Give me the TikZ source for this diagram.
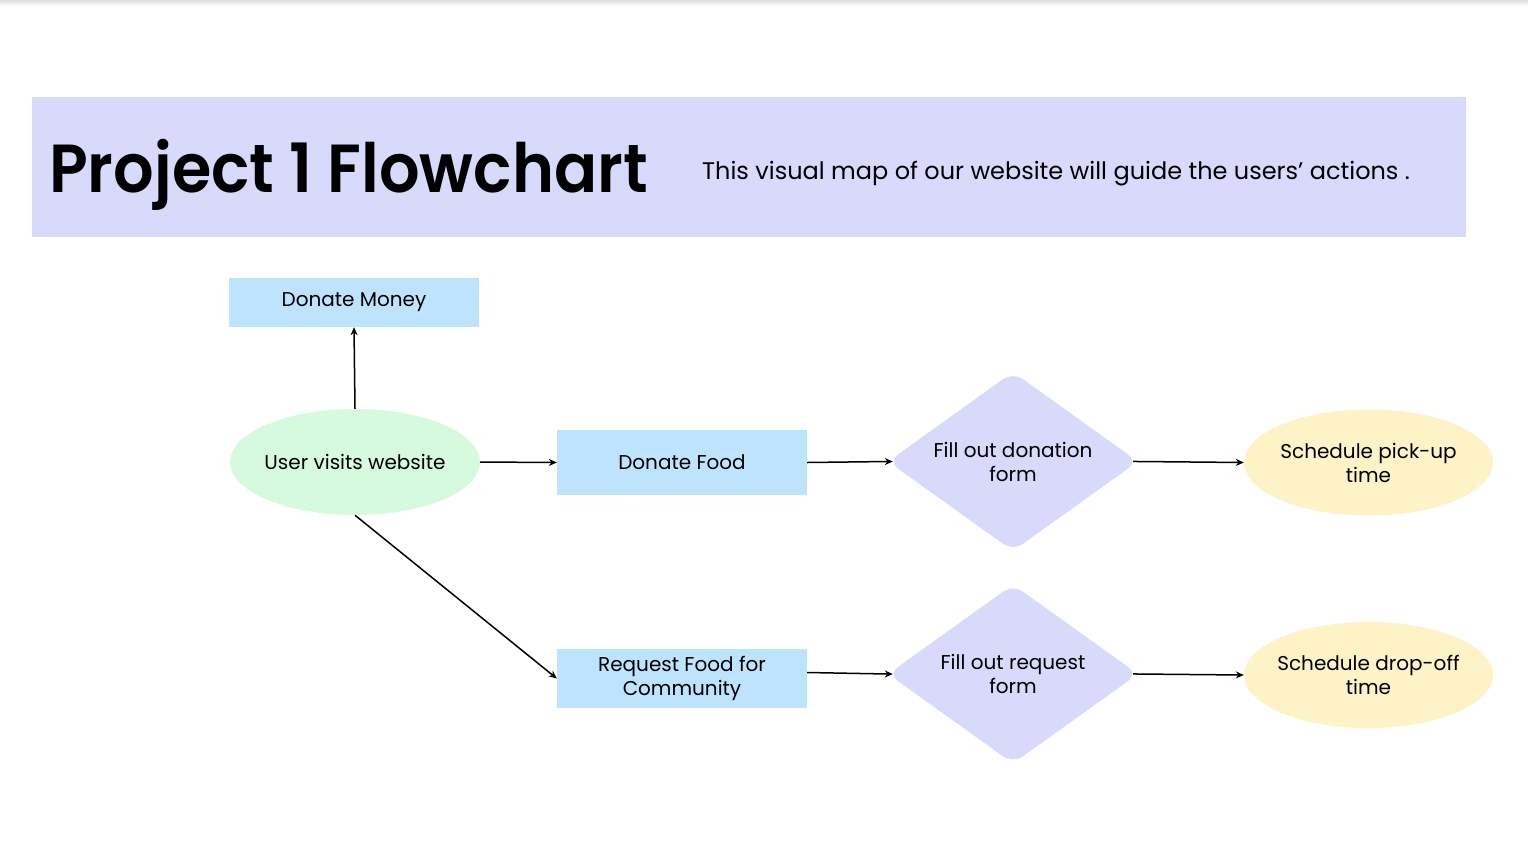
\documentclass[tikz,border=0pt]{standalone}
\usepackage{fontspec}
\usepackage{graphicx}
\setmainfont{Poppins}
\newfontfamily\titlefont{Poppins SemiBold}
\usetikzlibrary{shapes.geometric,arrows.meta,calc}
\definecolor{banner}{RGB}{216,218,252}
\definecolor{boxblue}{RGB}{190,227,253}
\definecolor{ovgreen}{RGB}{213,250,222}
\definecolor{ovyellow}{RGB}{253,243,199}
\definecolor{diamondc}{RGB}{216,218,252}
\begin{document}
\begin{tikzpicture}[x=1pt,y=-1pt,
  lbl/.style={font=\fontsize{20}{24}\selectfont, align=center, text=black},
  bluebox/.style={fill=boxblue, draw=none, minimum width=250pt, inner sep=0pt},
  greenov/.style={ellipse, fill=ovgreen, draw=none, minimum width=250pt, minimum height=106pt, inner sep=0pt},
  yellowov/.style={ellipse, fill=ovyellow, draw=none, minimum width=249pt, minimum height=106pt, inner sep=0pt},
  decision/.style={diamond, fill=diamondc, draw=none, rounded corners=12pt, minimum width=250pt, minimum height=179pt, inner sep=0pt},
  conn/.style={draw=black, line width=1.5pt, -{Stealth[length=8pt,width=7pt]}}]
\useasboundingbox (0,0) rectangle (1528,855);
\fill[white] (0,0) rectangle (1528,855);
\shade[top color=gray!25, bottom color=white] (0,0) rectangle (1528,6);
% banner
\fill[banner] (32,97) rectangle (1466,237);
\node[anchor=base west, inner sep=0pt, font=\titlefont\fontsize{68}{80}\selectfont] (title) at (49,192) {\scalebox{0.937}[1]{Project 1 Flowchart}};
\node[anchor=west, inner sep=0pt, font=\fontsize{24}{28}\selectfont] (sub) at (702,174) {This visual map of our website will guide the users’ actions .};
% nodes
\node[bluebox, minimum height=49pt, label={[lbl]center:Donate Money}] (money) at (354,302.5) {};
\node[greenov, label={[lbl]center:User visits website}] (user) at (355,462) {};
\node[bluebox, minimum height=65pt, label={[lbl]center:Donate Food}] (food) at (682,462.5) {};
\node[bluebox, minimum height=59pt, label={[lbl]center:{Request Food for\\Community}}] (request) at (682,678.5) {};
\node[decision, label={[lbl]center:{Fill out donation\\form}}] (d1) at (1013,461.5) {};
\node[decision, label={[lbl]center:{Fill out request\\form}}] (d2) at (1013,674) {};
\node[yellowov, label={[lbl]center:{Schedule pick-up\\time}}] (y1) at (1368.5,462.5) {};
\node[yellowov, label={[lbl]center:{Schedule drop-off\\time}}] (y2) at (1368.5,675) {};
% connectors
\draw[conn] (user.north) -- (money.south);
\draw[conn] (user.east) -- (food.west);
\draw[conn] (user.south) -- (request.west);
\draw[conn, shorten >=-5pt] (food.east) -- (d1.west);
\draw[conn, shorten <=-5pt] (d1.east) -- (y1.west);
\draw[conn, shorten >=-5pt] ($(request.east)+(0,-6)$) -- (d2.west);
\draw[conn, shorten <=-5pt] (d2.east) -- (y2.west);
\end{tikzpicture}
\end{document}
